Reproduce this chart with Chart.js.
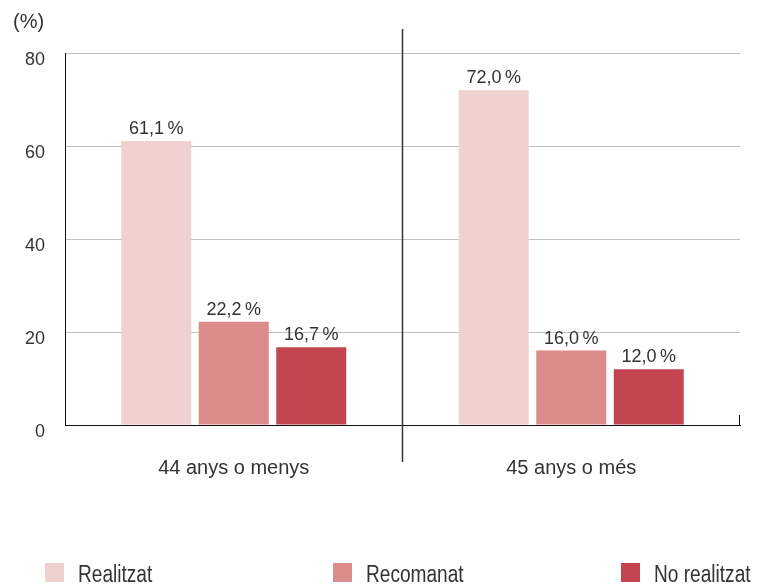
<!DOCTYPE html>
<html>
<head>
<meta charset="utf-8">
<script src="https://cdn.jsdelivr.net/npm/chart.js@4.4.0/dist/chart.umd.min.js"></script>
<style>
  body { margin: 0; background: #fff; }
  canvas { display: block; }
</style>
</head>
<body>
<canvas id="grafica" width="758" height="586"></canvas>
<script>
// Dades del gràfic
const categories = ['44 anys o menys', '45 anys o més'];
const series = ['Realitzat', 'Recomanat', 'No realitzat'];
const realitzat = [61.1, 72.0];
const recomanat = [22.2, 16.0];
const noRealitzat = [16.7, 12.0];
const yTicks = [0, 20, 40, 60, 80];
const colors = ['#f0d1cf', '#db8b8a', '#c2454f'];

const font = '"Liberation Sans", Arial, sans-serif';
const textColor = '#333';

// Etiquetes de valor, separador central, títol de l'eix i llegenda
const extras = {
    id: 'extras',
    afterDatasetsDraw(chart) {
        const ctx = chart.ctx;
        ctx.save();
        ctx.fillStyle = textColor;
        ctx.font = '18px ' + font;
        ctx.textAlign = 'center';
        ctx.textBaseline = 'alphabetic';
        chart.data.datasets.forEach((ds, i) => {
            chart.getDatasetMeta(i).data.forEach((bar, j) => {
                const txt = ds.data[j].toFixed(1).replace('.', ',') + '\u2009%';
                ctx.fillText(txt, bar.x, bar.y - 7);
            });
        });
        ctx.restore();
    },
    afterDraw(chart) {
        const ctx = chart.ctx;
        const x = chart.scales.x;
        const area = chart.chartArea;
        ctx.save();
        // línia divisòria entre grups
        const mid = (x.getPixelForValue(0) + x.getPixelForValue(1)) / 2;
        ctx.strokeStyle = '#333';
        ctx.lineWidth = 1.5;
        ctx.beginPath();
        ctx.moveTo(mid, area.top - 24);
        ctx.lineTo(mid, area.bottom + 37);
        ctx.stroke();
        // petita marca al final de l'eix x
        ctx.lineWidth = 1;
        ctx.strokeStyle = '#111';
        ctx.beginPath();
        ctx.moveTo(area.right - 0.5, area.bottom - 10);
        ctx.lineTo(area.right - 0.5, area.bottom);
        ctx.stroke();
        // títol de l'eix y
        ctx.fillStyle = textColor;
        ctx.font = '20px ' + font;
        ctx.textAlign = 'left';
        ctx.textBaseline = 'alphabetic';
        ctx.fillText('(%)', 13, 28);
        // llegenda (lletra estreta: s'escala horitzontalment)
        ctx.font = '23px ' + font;
        series.forEach((name, i) => {
            const lx = 45 + i * 288;
            ctx.fillStyle = colors[i];
            ctx.fillRect(lx, 563, 19, 19);
            ctx.fillStyle = textColor;
            ctx.save();
            ctx.translate(lx + 33, 582);
            ctx.scale(0.83, 1);
            ctx.fillText(name, 0, 0);
            ctx.restore();
        });
        ctx.restore();
    }
};

new Chart(document.getElementById('grafica'), {
    type: 'bar',
    data: {
        labels: categories,
        datasets: [
            { label: series[0], data: realitzat, backgroundColor: colors[0] },
            { label: series[1], data: recomanat, backgroundColor: colors[1] },
            { label: series[2], data: noRealitzat, backgroundColor: colors[2] }
        ]
    },
    options: {
        responsive: false,
        animation: false,
        layout: { padding: { top: 53, right: 18, left: 0, bottom: 0 } },
        datasets: {
            bar: { categoryPercentage: 0.689, barPercentage: 0.903 }
        },
        scales: {
            x: {
                grid: { display: false },
                border: { display: true, color: '#111', width: 1 },
                ticks: { color: textColor, font: { family: font, size: 20 }, padding: 23 },
                afterFit: s => { s.height = 161; }
            },
            y: {
                min: 0,
                max: 80,
                afterBuildTicks: s => { s.ticks = yTicks.map(v => ({ value: v })); },
                grid: { color: '#c0c0c0', drawTicks: false },
                border: { display: true, color: '#111', width: 1 },
                ticks: { color: textColor, font: { family: font, size: 18 }, padding: 20, labelOffset: 7 },
                afterFit: s => { s.width = 65; }
            }
        },
        plugins: {
            legend: { display: false },
            tooltip: { enabled: false }
        }
    },
    plugins: [extras]
});
</script>
</body>
</html>
